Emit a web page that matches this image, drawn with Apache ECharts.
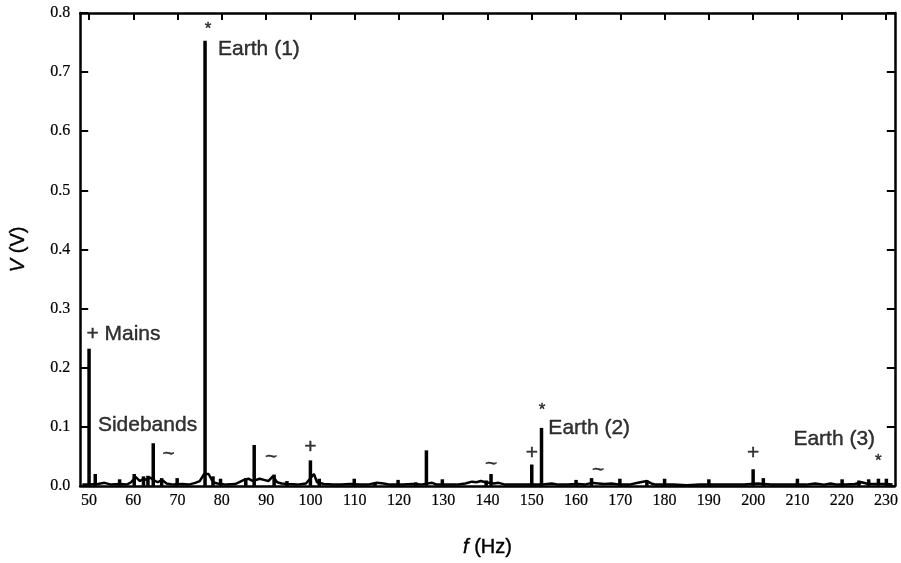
<!DOCTYPE html>
<html>
<head>
<meta charset="utf-8">
<script src="https://cdn.jsdelivr.net/npm/echarts@6/dist/echarts.min.js"></script>
<style>html,body{margin:0;padding:0;background:#fff;}#c{width:901px;height:563px;}</style>
</head>
<body>
<div id="c"></div>
<script>
// Spectral peaks: frequency (Hz) and amplitude (V)
const peakFreq = [50, 51.4, 56.9, 60.2, 62.3, 63.3, 64.5, 66.4, 69.9, 76.2, 78.0, 79.7, 85.4, 87.3, 91.8, 94.7, 100, 102.0, 109.9, 114.6, 119.8, 123.8, 126.2, 129.8, 139.7, 140.8, 150, 152.2, 160.0, 163.5, 169.9, 176.0, 180.0, 190.0, 200, 202.3, 210.0, 220.1, 223.9, 226.1, 228.3, 230.1];
const peakV =    [0.232, 0.020, 0.011, 0.020, 0.016, 0.017, 0.072, 0.013, 0.013, 0.753, 0.016, 0.012, 0.013, 0.069, 0.019, 0.008, 0.043, 0.012, 0.012, 0.005, 0.010, 0.006, 0.060, 0.011, 0.009, 0.020, 0.036, 0.098, 0.010, 0.013, 0.012, 0.009, 0.012, 0.011, 0.028, 0.013, 0.012, 0.011, 0.009, 0.011, 0.012, 0.012];

// Noise floor of the spectrum
const noiseFreq = [48.5, 50, 52, 53.5, 55, 57, 58.5, 59.5, 60.5, 61.5, 62.3, 63, 63.8, 64.5, 65.5, 66.5, 67.5, 69, 71, 72.5, 74, 75, 76, 77, 78, 79, 81, 83, 85, 86, 87, 88.5, 89.5, 90.5, 91.5, 92.5, 93.5, 95, 97, 99, 100.8, 101.5, 103, 105, 107, 109, 111, 113, 115, 116.5, 118, 121, 123, 125, 127.5, 128.5, 131, 133, 135, 136.5, 137.5, 138.5, 139.5, 141.5, 142.5, 144, 146, 148, 150, 152, 154.5, 156, 158, 160.5, 162, 163.5, 165, 166.5, 168, 170, 172, 174, 176, 177, 178, 182, 185, 188, 192, 195, 198, 201, 204, 207, 212, 214, 216, 217.5, 219, 221, 223, 224.5, 226, 228, 230, 231.5];
const noiseV =    [0.002, 0.002, 0.003, 0.005, 0.002, 0.003, 0.002, 0.006, 0.015, 0.008, 0.012, 0.010, 0.014, 0.010, 0.006, 0.010, 0.004, 0.002, 0.003, 0.002, 0.005, 0.008, 0.020, 0.020, 0.006, 0.004, 0.002, 0.003, 0.010, 0.012, 0.008, 0.012, 0.010, 0.008, 0.016, 0.006, 0.004, 0.003, 0.002, 0.004, 0.020, 0.006, 0.003, 0.002, 0.002, 0.003, 0.002, 0.002, 0.005, 0.004, 0.002, 0.002, 0.003, 0.002, 0.005, 0.002, 0.002, 0.002, 0.004, 0.007, 0.006, 0.008, 0.006, 0.004, 0.005, 0.002, 0.002, 0.002, 0.002, 0.002, 0.004, 0.002, 0.002, 0.003, 0.002, 0.005, 0.004, 0.003, 0.004, 0.002, 0.002, 0.005, 0.008, 0.004, 0.002, 0.002, 0.001, 0.002, 0.002, 0.002, 0.002, 0.004, 0.002, 0.002, 0.002, 0.004, 0.002, 0.004, 0.002, 0.002, 0.003, 0.006, 0.003, 0.003, 0.003, 0.002];

const xTicks = [50, 60, 70, 80, 90, 100, 110, 120, 130, 140, 150, 160, 170, 180, 190, 200, 210, 220, 230];

// Text annotations (left-aligned), anchored at data coordinates
const noteText = ['+ Mains', 'Sidebands', 'Earth (1)', 'Earth (2)', 'Earth (3)'];
const noteFreq = [49.4, 52.0, 79.15, 153.75, 209.1];
const noteV =    [0.256, 0.103, 0.739, 0.098, 0.078];

// Marker symbols (centered)
const markText = ['*', '~', '~', '+', '~', '+', '*', '~', '+', '*'];
const markFreq = [76.9, 68.0, 91.1, 100, 140.8, 150, 152.3, 165, 200, 228.3];
const markV =    [0.773, 0.054, 0.049, 0.066, 0.036, 0.055, 0.127, 0.027, 0.055, 0.041];

const SANS = '"Liberation Sans", Arial, sans-serif';
const SERIF = '"Liberation Serif", "Times New Roman", serif';

const chart = echarts.init(document.getElementById('c'));
const axisLine = { show: true, onZero: false, lineStyle: { color: '#000', width: 2.5 } };
const ink = { color: '#000', textBorderColor: '#000', textBorderWidth: 0.4 };

chart.setOption({
  animation: false,
  backgroundColor: '#fff',
  grid: { left: 76, right: 5, top: 13, bottom: 74, containLabel: false },
  xAxis: [
    {
      type: 'value', min: 48, max: 232, position: 'bottom',
      name: '{i|f} (Hz)', nameLocation: 'middle', nameGap: 52,
      nameTextStyle: Object.assign({ fontFamily: SANS, fontSize: 20, rich: { i: Object.assign({ fontFamily: SANS, fontSize: 20, fontStyle: 'italic' }, ink) } }, ink),
      axisLine: axisLine,
      axisTick: { show: false },
      axisLabel: Object.assign({ customValues: xTicks, margin: 7, fontFamily: SERIF, fontSize: 16 }, ink, { textBorderWidth: 0.2 }),
      splitLine: { show: false }
    },
    {
      type: 'value', min: 48, max: 232, position: 'top',
      axisLine: axisLine,
      axisTick: { show: true, inside: true, length: 7, customValues: xTicks, lineStyle: { color: '#000', width: 2 } },
      axisLabel: { show: false },
      splitLine: { show: false }
    }
  ],
  yAxis: [
    {
      type: 'value', min: 0, max: 0.8, interval: 0.1, position: 'left',
      name: '{i|V} (V)', nameLocation: 'middle', nameGap: 52,
      nameTextStyle: Object.assign({ fontFamily: SANS, fontSize: 20, rich: { i: Object.assign({ fontFamily: SANS, fontSize: 20, fontStyle: 'italic' }, ink) } }, ink),
      axisLine: axisLine,
      axisTick: { show: true, inside: true, length: 8, lineStyle: { color: '#000', width: 2 } },
      axisLabel: Object.assign({ margin: 10, fontFamily: SERIF, fontSize: 16, formatter: v => v.toFixed(1) }, ink, { textBorderWidth: 0.2 }),
      splitLine: { show: false }
    },
    {
      type: 'value', min: 0, max: 0.8, interval: 0.1, position: 'right',
      axisLine: axisLine,
      axisTick: { show: true, inside: true, length: 8, lineStyle: { color: '#000', width: 2 } },
      axisLabel: { show: false },
      splitLine: { show: false }
    }
  ],
  series: [
    {
      type: 'line', xAxisIndex: 0, yAxisIndex: 0,
      data: noiseFreq.map((f, i) => [f, noiseV[i]]),
      symbol: 'none', lineStyle: { color: '#000', width: 2.5 }, z: 3
    },
    {
      type: 'bar', xAxisIndex: 0, yAxisIndex: 0,
      data: peakFreq.map((f, i) => [f, peakV[i]]),
      barWidth: 3.5, itemStyle: { color: '#000' }, z: 4
    },
    {
      type: 'scatter', xAxisIndex: 0, yAxisIndex: 0, symbolSize: 0, z: 5,
      data: noteText.map((t, i) => ({ value: [noteFreq[i], noteV[i]], name: t })),
      label: Object.assign({ show: true, position: 'right', distance: 0, formatter: p => p.name, fontFamily: SANS, fontSize: 21 }, ink)
    },
    {
      type: 'scatter', xAxisIndex: 0, yAxisIndex: 0, symbolSize: 0, z: 5,
      data: markText.map((t, i) => ({ value: [markFreq[i], markV[i]], name: t,
        label: { fontSize: t === '*' ? 17 : 21 } })),
      label: Object.assign({ show: true, position: 'inside', formatter: p => p.name, fontFamily: SANS, fontSize: 21 }, ink)
    }
  ]
});
</script>
</body>
</html>
